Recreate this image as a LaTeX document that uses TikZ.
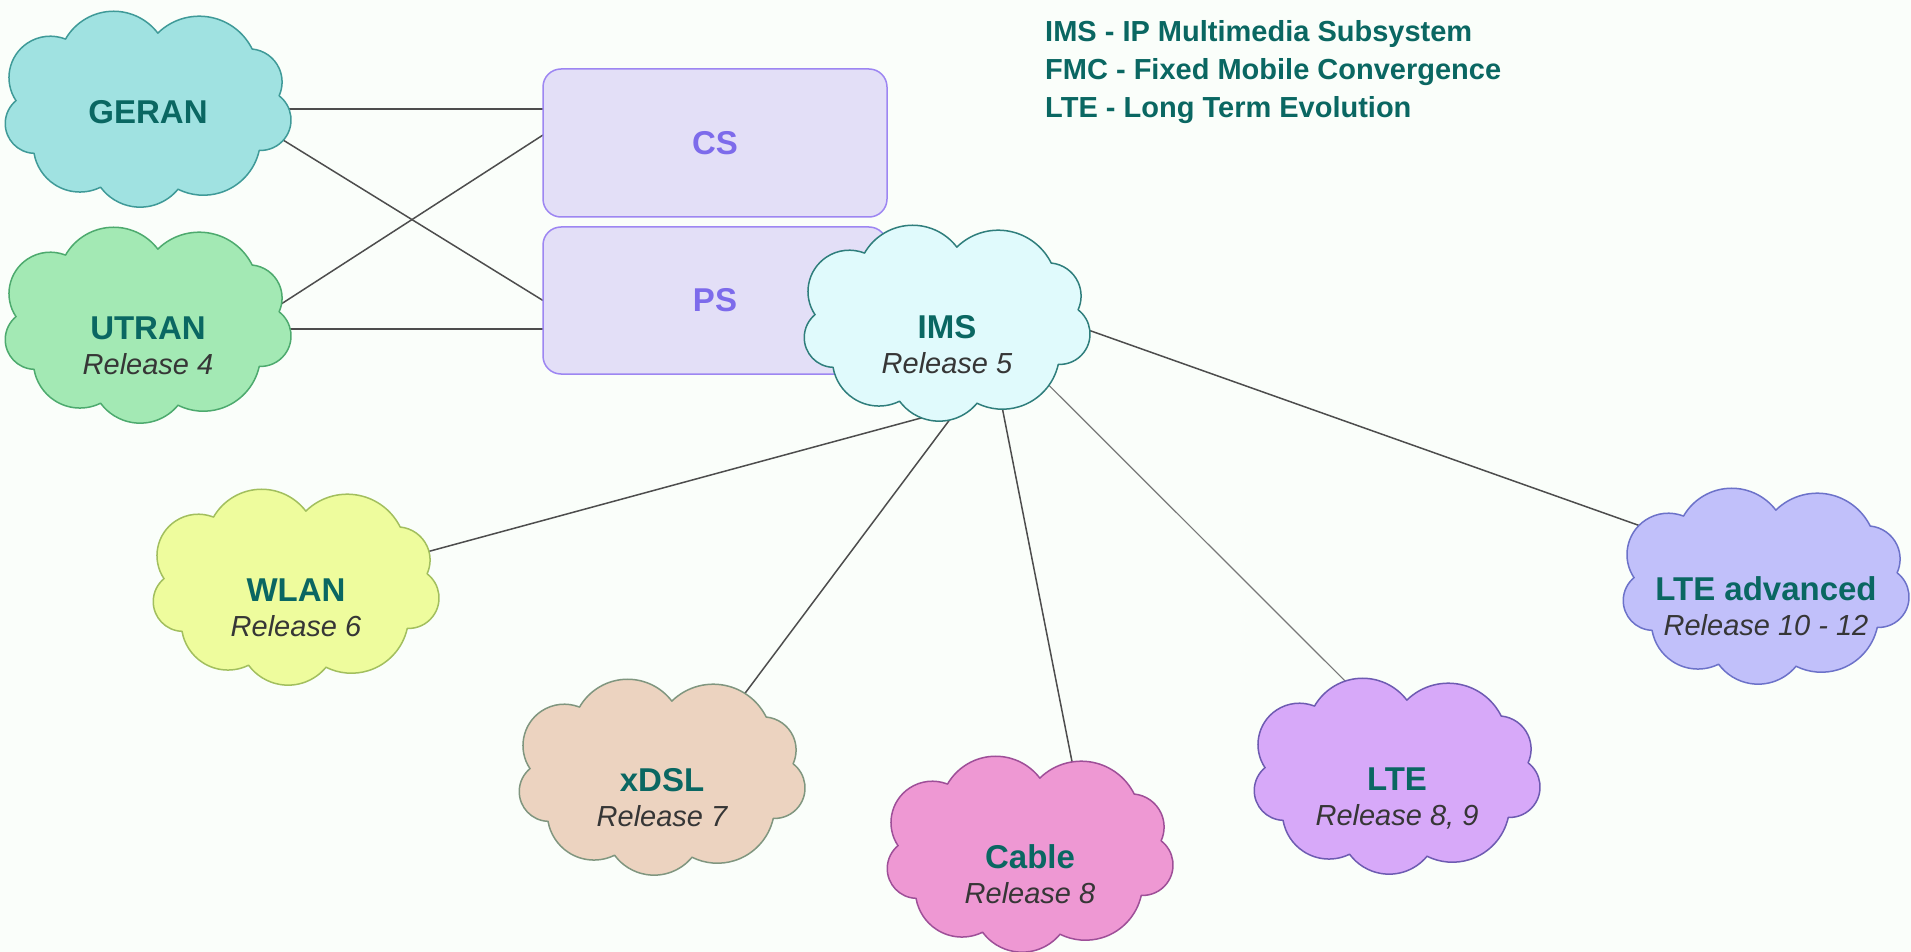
\documentclass[tikz,border=0pt]{standalone}
\usepackage{fontspec}
\setmainfont{Liberation Sans}
\usetikzlibrary{shapes.geometric,calc}

\definecolor{bgc}{HTML}{FAFEFA}
\definecolor{ink}{HTML}{0A6762}
\definecolor{relc}{HTML}{363636}
\definecolor{linkc}{HTML}{4D4D4D}
\definecolor{linkl}{HTML}{777777}
\definecolor{boxfill}{HTML}{E3DFF7}
\definecolor{boxline}{HTML}{9D86F2}
\definecolor{boxtext}{HTML}{7D6BEB}
\definecolor{geranF}{HTML}{A0E2E1}\definecolor{geranD}{HTML}{3F9A98}
\definecolor{utranF}{HTML}{A3E9B4}\definecolor{utranD}{HTML}{4DAA6E}
\definecolor{imsF}{HTML}{E0FAFC}\definecolor{imsD}{HTML}{2F7E7C}
\definecolor{wlanF}{HTML}{EEFC9D}\definecolor{wlanD}{HTML}{A2BF5E}
\definecolor{xdslF}{HTML}{ECD3C0}\definecolor{xdslD}{HTML}{80967F}
\definecolor{cableF}{HTML}{EE98D3}\definecolor{cableD}{HTML}{9E4F98}
\definecolor{lteF}{HTML}{D7A9F9}\definecolor{lteD}{HTML}{6E5BB2}
\definecolor{lteaF}{HTML}{C1C0FA}\definecolor{lteaD}{HTML}{6C72C9}

\pgfdeclarelayer{bottom}
\pgfdeclarelayer{wires}
\pgfsetlayers{bottom,wires,main}

% nine-puff cloud outline (about 286 x 196) centred on (#1,#2),
% filled with #3 and stroked with #4
\newcommand\cloudpath[4]{%
  \path[fill=#3, draw=#4, line width=1.5pt, line join=round,
        shift={(#1-143,#2-98)}, x=0.993pt, y=-0.995pt]
    (11,90)
    arc[start angle=146.3, end angle=291.6, radius=41.6]
    arc[start angle=210.0, end angle=322.6, radius=56.0]
    arc[start angle=225.6, end angle=333.5, radius=59.6]
    arc[start angle=-84.5, end angle=24.6, radius=33.3]
    arc[start angle=-52.6, end angle=92.6, radius=30.6]
    arc[start angle=12.6, end angle=116.4, radius=57.6]
    arc[start angle=39.5, end angle=143.5, radius=49.5]
    arc[start angle=63.7, end angle=170.2, radius=46.9]
    arc[start angle=91.7, end angle=230.8, radius=29.9]
    -- cycle;}

\begin{document}
\begin{tikzpicture}[x=1pt, y=-1pt,
  cloudnode/.style={ellipse, minimum width=286pt, minimum height=196pt,
                    inner sep=0pt, outer sep=0pt, draw=none},
  ttl/.style={font=\fontsize{33}{40}\selectfont\bfseries, text=ink,
              inner sep=0pt, anchor=base},
  rls/.style={font=\fontsize{29}{35}\selectfont\itshape, text=relc,
              inner sep=0pt, anchor=base},
  keytext/.style={font=\fontsize{29}{35}\selectfont\bfseries, text=ink,
                  inner sep=0pt, anchor=base west},
  swbox/.style={rectangle, rounded corners=18pt, minimum width=344pt,
                fill=boxfill, draw=boxline, line width=1.5pt, text=boxtext,
                font=\fontsize{33}{40}\selectfont\bfseries,
                inner sep=0pt, outer sep=0pt},
  link/.style={draw=linkc, line width=1.5pt},
  linklight/.style={draw=linkl, line width=1.2pt},
  inA/.style={shorten <=-16pt},
  inB/.style={shorten >=-16pt}]

\useasboundingbox (0,0) rectangle (1911,952);
\begin{pgfonlayer}{bottom}
  \fill[bgc] (0,0) rectangle (1911,952);
\end{pgfonlayer}

% circuit- and packet-switched domains
\node[swbox, minimum height=148pt] (cs) at (715,143) {CS};
\node[swbox, minimum height=147pt] (ps) at (715,300.5) {PS};

% access network clouds
\cloudpath{148}{109}{geranF}{geranD}
\cloudpath{148}{325}{utranF}{utranD}
\cloudpath{947}{323}{imsF}{imsD}
\cloudpath{296}{587}{wlanF}{wlanD}
\cloudpath{662}{777}{xdslF}{xdslD}
\cloudpath{1030}{854}{cableF}{cableD}
\cloudpath{1397}{776}{lteF}{lteD}
\cloudpath{1766}{586}{lteaF}{lteaD}

\node[cloudnode] (geran) at (148,109) {};
\node[cloudnode] (utran) at (148,325) {};
\node[cloudnode] (ims)   at (947,323) {};
\node[cloudnode] (wlan)  at (296,587) {};
\node[cloudnode] (xdsl)  at (662,777) {};
\node[cloudnode] (cable) at (1030,854) {};
\node[cloudnode] (lte)   at (1397,776) {};
\node[cloudnode] (ltea)  at (1766,586) {};

% labels
\node[ttl] (geranT) at ($(geran.center)+(0,15)$) {GERAN};
\node[ttl] (utranT) at ($(utran.center)+(0,14)$) {UTRAN};
\node[rls] (utranR) at ($(utran.center)+(0,49)$) {Release 4};
\node[ttl] (imsT)   at ($(ims.center)+(0,15)$) {IMS};
\node[rls] (imsR)   at ($(ims.center)+(0,50)$) {Release 5};
\node[ttl] (wlanT)  at ($(wlan.center)+(0,14)$) {WLAN};
\node[rls] (wlanR)  at ($(wlan.center)+(0,49)$) {Release 6};
\node[ttl] (xdslT)  at ($(xdsl.center)+(0,14)$) {xDSL};
\node[rls] (xdslR)  at ($(xdsl.center)+(0,49)$) {Release 7};
\node[ttl] (cableT) at ($(cable.center)+(0,14)$) {Cable};
\node[rls] (cableR) at ($(cable.center)+(0,49)$) {Release 8};
\node[ttl] (lteT)   at ($(lte.center)+(0,14)$) {LTE};
\node[rls] (lteR)   at ($(lte.center)+(0,49)$) {Release 8, 9};
\node[ttl] (lteaT)  at ($(ltea.center)+(0,14)$) {LTE advanced};
\node[rls] (lteaR)  at ($(ltea.center)+(0,49)$) {Release 10 - 12};

% abbreviations
\node[keytext] (key1) at (1045,42) {IMS - IP Multimedia Subsystem};
\node[keytext] (key2) at (1045,80) {FMC - Fixed Mobile Convergence};
\node[keytext] (key3) at (1045,118) {LTE - Long Term Evolution};

% connections
\begin{pgfonlayer}{wires}
  \draw[link, inA] (geran.east) -- (geran.east -| cs.west);
  \draw[link, inA] (geran.347) -- (ps.west);
  \draw[link, inA] (utran.10) -- ([yshift=8pt]cs.west);
  \draw[link, inA] ([yshift=-4pt]utran.east) -- ([yshift=-4pt]utran.east -| ps.west);
  \draw[link, inA, inB] (ims.253) -- (wlan.15);
  \draw[link, inA, inB] (ims.271) -- (xdsl.45);
  \draw[link, inA, inB] (ims.302) -- (cable.66);
  \draw[linklight, inA, inB] (ims.328) -- (lte.118);
  \draw[link, inA, inB] (ims.357) -- (ltea.154);
\end{pgfonlayer}
\end{tikzpicture}
\end{document}
